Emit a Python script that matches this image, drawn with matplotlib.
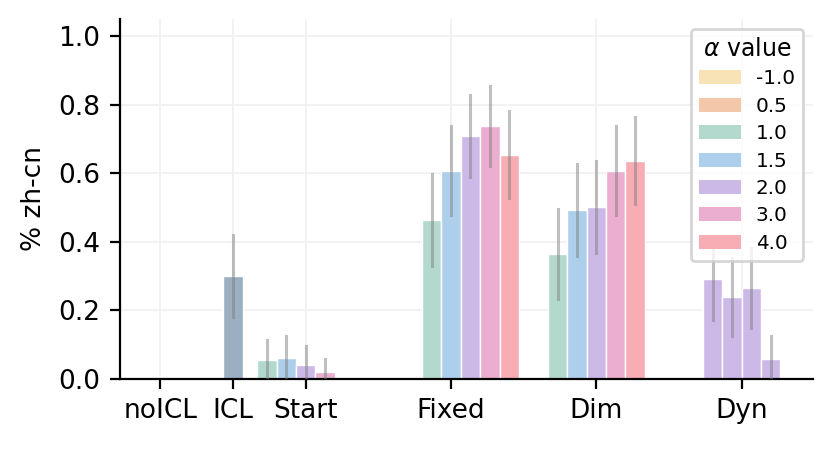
import matplotlib
matplotlib.use("Agg")
import matplotlib.pyplot as plt
from matplotlib.patches import Patch

# data
categories = ["noICL", "ICL", "Start", "Fixed", "Dim", "Dyn"]
alpha_labels = ["-1.0", "0.5", "1.0", "1.5", "2.0", "3.0", "4.0"]

icl_val = [0.30]
icl_lo = [0.18]
icl_hi = [0.42]

start_alpha = ["1.0", "1.5", "2.0", "3.0"]
start_vals = [0.055, 0.060, 0.040, 0.020]
start_lo = [0.0, 0.0, 0.0, 0.0]
start_hi = [0.114, 0.124, 0.095, 0.058]

fixed_alpha = ["1.0", "1.5", "2.0", "3.0", "4.0"]
fixed_vals = [0.464, 0.608, 0.709, 0.737, 0.654]
fixed_lo = [0.330, 0.479, 0.588, 0.621, 0.528]
fixed_hi = [0.599, 0.737, 0.829, 0.854, 0.781]

dim_alpha = ["1.0", "1.5", "2.0", "3.0", "4.0"]
dim_vals = [0.364, 0.493, 0.502, 0.608, 0.637]
dim_lo = [0.232, 0.359, 0.367, 0.478, 0.510]
dim_hi = [0.495, 0.626, 0.636, 0.739, 0.764]

dyn_alpha = ["2.0", "2.0", "2.0", "2.0"]
dyn_vals = [0.292, 0.240, 0.266, 0.058]
dyn_lo = [0.171, 0.124, 0.148, -0.01]
dyn_hi = [0.412, 0.354, 0.381, 0.126]

# colours / layout
colors = {"-1.0": "#f8e3b6", "0.5": "#f3c7a9", "1.0": "#b3d9cf",
          "1.5": "#aecfeb", "2.0": "#cdb9e8", "3.0": "#ecaed0",
          "4.0": "#f7adb3"}
icl_color = "#9aafc2"
tick_pos = [0, 1, 2, 4, 6, 8]
w = 0.8 / 3
start_off = [-2, -1, 0, 1]
fixed_off = [-1, 0, 1, 2, 3]
dim_off = [-2, -1, 0, 1, 2]
dyn_off = [-1.5, -0.5, 0.5, 1.5]

plt.rcParams["font.family"] = "DejaVu Sans"
fig, ax = plt.subplots(figsize=(4.16, 2.38), dpi=200)

err_kw = dict(color="gray", alpha=0.5, lw=1.1, zorder=3)


def draw_group(center, offs, alphas, vals, lo, hi, color=None):
    for o, a, v, l, h in zip(offs, alphas, vals, lo, hi):
        x = center + o * w
        ax.bar(x, v, width=w, color=color or colors[a],
               edgecolor="white", linewidth=0.5, zorder=2)
        ax.plot([x, x], [max(l, 0), h], **err_kw)


draw_group(tick_pos[1], [0], ["ICL"], icl_val, icl_lo, icl_hi, icl_color)
draw_group(tick_pos[2], start_off, start_alpha, start_vals, start_lo, start_hi)
draw_group(tick_pos[3], fixed_off, fixed_alpha, fixed_vals, fixed_lo, fixed_hi)
draw_group(tick_pos[4], dim_off, dim_alpha, dim_vals, dim_lo, dim_hi)
draw_group(tick_pos[5], dyn_off, dyn_alpha, dyn_vals, dyn_lo, dyn_hi)

ax.set_xticks(tick_pos)
ax.set_xticklabels(categories, fontsize=9.5)
ax.tick_params(axis="y", labelsize=9.5)
ax.set_xlim(-0.56, 8.98)
ax.set_ylim(0, 1.05)
ax.set_yticks([0.0, 0.2, 0.4, 0.6, 0.8, 1.0])
ax.set_ylabel("% zh-cn", fontsize=9.5)
ax.grid(True, color="#f0f0f0", linewidth=0.6, zorder=0)
ax.set_axisbelow(True)
ax.spines["top"].set_visible(False)
ax.spines["right"].set_visible(False)

handles = [Patch(facecolor=colors[a], edgecolor="none", label=a) for a in alpha_labels]
ax.legend(handles=handles, title=r"$\alpha$ value", loc="upper right",
          fontsize=7.2, title_fontsize=8.5, labelspacing=0.42,
          handlelength=2.1, handletextpad=0.75)

fig.subplots_adjust(left=0.144, right=0.977, bottom=0.204, top=0.96)
fig.savefig("out.png", dpi=200)
